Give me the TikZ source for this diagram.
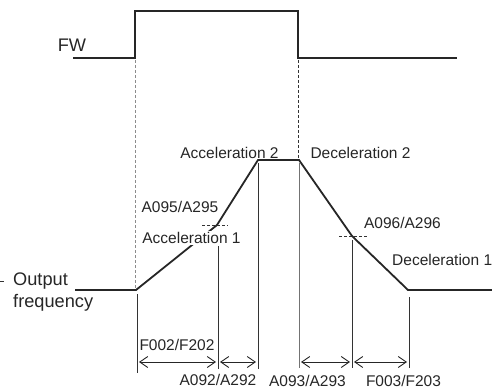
\documentclass[tikz,border=0pt]{standalone}
\usepackage{fontspec}
\setmainfont{Liberation Sans}
\usetikzlibrary{arrows.meta}
\begin{document}
\begin{tikzpicture}[x=1pt,y=-1pt,
  sig/.style={line width=1.8pt, line join=miter, color=black!85},
  thin/.style={line width=0.9pt, color=black!80},
  guide/.style={line width=0.9pt, color=black!45, dash pattern=on 3pt off 2pt},
  guidedark/.style={line width=0.8pt, color=black!80, dash pattern=on 3pt off 2pt},
  dim/.style={line width=0.9pt, color=black!85, {Straight Barb[length=8pt,width=11pt]}-{Straight Barb[length=8pt,width=11pt]}},
  lbl/.style={inner sep=0pt, font=\fontsize{15.5pt}{18pt}\selectfont, text=black!85},
  biglbl/.style={inner sep=0pt, font=\fontsize{18.2pt}{21pt}\selectfont, text=black!85},
]
\useasboundingbox (0,0) rectangle (492,390);
% FW signal
\coordinate (fw0) at (73,58);
\coordinate (fw1) at (135,58);
\coordinate (fw2) at (135,11);
\coordinate (fw3) at (298,11);
\coordinate (fw4) at (298,58);
\coordinate (fw5) at (457,58);
\draw[sig] (fw0) -- (fw1) -- (fw2) -- (fw3) -- (fw4) -- (fw5);
\node[biglbl] (fwl) at (72,45) {FW};
% output frequency
\coordinate (o0) at (75,290);
\coordinate (o1) at (136,290);
\coordinate (o2) at (217,225);
\coordinate (o3) at (258,160);
\coordinate (o4) at (299,160);
\coordinate (o5) at (352,236);
\coordinate (o6) at (408,290);
\coordinate (o7) at (492,290);
% guides
\coordinate (g1t) at (135,60);
\coordinate (g1b) at (135,288);
\coordinate (g2t) at (298,60);
\coordinate (g2b) at (298,158);
\draw[guide] (g1t) -- (g1b);
\draw[guidedark] (g2t) -- (g2b);
\draw[sig] (o0) -- (o1) -- (o2) -- (o3) -- (o4) -- (o5) -- (o6) -- (o7);
% dashed horizontals
\coordinate (h1a) at (202,225);
\coordinate (h1b) at (228,225);
\coordinate (h2a) at (339,236);
\coordinate (h2b) at (367,236);
\draw[guidedark] (h1a) -- (h1b);
\draw[guidedark] (h2a) -- (h2b);
% vertical markers
\coordinate (v1t) at (137,294); \coordinate (v1b) at (137,373);
\coordinate (v2t) at (218,246); \coordinate (v2b) at (218,369);
\coordinate (v3t) at (258,163); \coordinate (v3b) at (258,369);
\coordinate (v4t) at (299,163); \coordinate (v4b) at (299,368);
\coordinate (v5t) at (352,240); \coordinate (v5b) at (352,368);
\coordinate (v6t) at (409,297); \coordinate (v6b) at (409,368);
\draw[thin] (v1t) -- (v1b);
\draw[thin] (v2t) -- (v2b);
\draw[thin] (v3t) -- (v3b);
\draw[thin, color=black!55] (v4t) -- (v4b);
\draw[thin] (v5t) -- (v5b);
\draw[thin] (v6t) -- (v6b);
% dimension arrows
\coordinate (d1a) at (139,362); \coordinate (d1b) at (216,362);
\coordinate (d2a) at (220,362); \coordinate (d2b) at (256,362);
\coordinate (d3a) at (301,362); \coordinate (d3b) at (350,362);
\coordinate (d4a) at (354,362); \coordinate (d4b) at (407,362);
\draw[dim] (d1a) -- (d1b);
\draw[dim] (d2a) -- (d2b);
\draw[dim] (d3a) -- (d3b);
\draw[dim] (d4a) -- (d4b);
% left tick
\coordinate (t0) at (0,281);
\coordinate (t1) at (4,281);
\draw[thin] (t0) -- (t1);
% labels
\node[lbl] (acc2) at (229.5,153) {Acceleration 2};
\node[lbl] (dec2) at (360.5,153) {Deceleration 2};
\node[lbl] (a095) at (180,207) {A095/A295};
\node[lbl, fill=white, inner sep=1pt] (acc1) at (191.5,238) {Acceleration 1};
\node[lbl] (a096) at (402.5,223) {A096/A296};
\node[lbl, anchor=west] (dec1) at (392,260) {Deceleration 1};
\node[biglbl, anchor=base west] (out) at (13,285) {Output};
\node[biglbl, anchor=base west] (freq) at (13,307) {frequency};
\node[lbl] (f002) at (177,345) {F002/F202};
\node[lbl] (a092) at (218,380) {A092/A292};
\node[lbl] (a093) at (307.5,381) {A093/A293};
\node[lbl] (f003) at (403.5,381) {F003/F203};
\end{tikzpicture}
\end{document}
